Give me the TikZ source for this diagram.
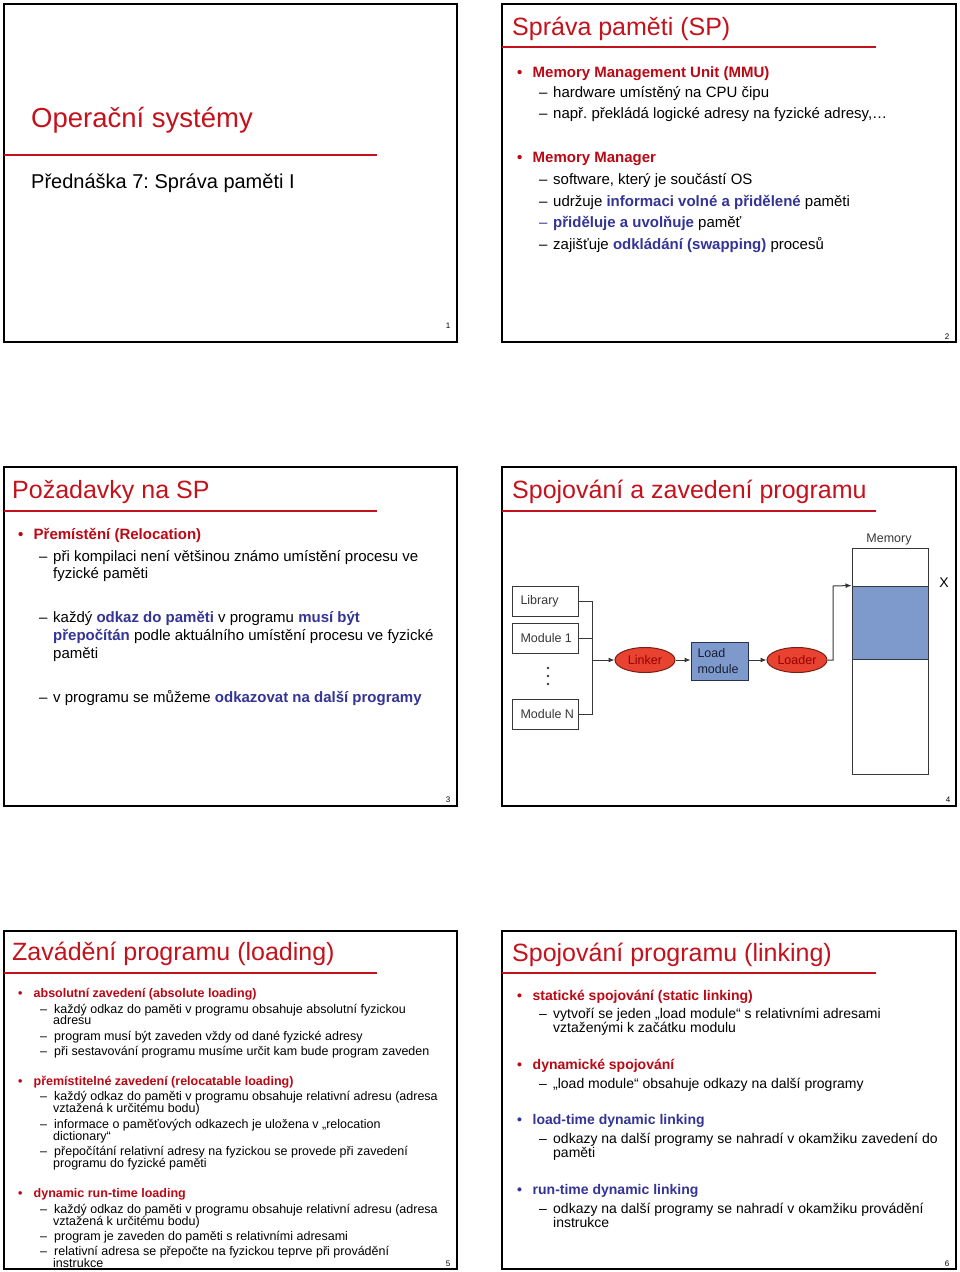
\documentclass[tikz,border=0pt]{standalone}
\usepackage{fontspec}
\setmainfont{Liberation Sans}
\usepackage{tikz}
\usetikzlibrary{shapes,arrows,arrows.meta}
\frenchspacing
\definecolor{titlered}{RGB}{196,18,28}
\definecolor{headred}{RGB}{186,8,20}
\definecolor{emblue}{RGB}{52,52,150}
\definecolor{memblue}{RGB}{126,154,204}
\definecolor{ellred}{RGB}{232,66,48}
\definecolor{elltext}{RGB}{150,0,0}
\definecolor{wire}{RGB}{55,55,55}
\tikzstyle{slide} = [draw=black, line width=1.6pt]
\tikzstyle{rule} = [draw=titlered, line width=1.4pt]
\tikzstyle{title} = [anchor=base west, inner sep=0pt, text=titlered, font=\fontsize{25}{30}\selectfont]
\tikzstyle{txt} = [anchor=base west, inner sep=0pt]
\tikzstyle{hd} = [txt, text=headred, font=\bfseries\fontsize{15}{18}\selectfont]
\tikzstyle{sub} = [txt, font=\fontsize{15}{18}\selectfont]
\tikzstyle{hdm} = [txt, text=headred, font=\bfseries\fontsize{14}{17}\selectfont]
\tikzstyle{subm} = [txt, font=\fontsize{14}{17}\selectfont]
\tikzstyle{hds} = [txt, text=headred, font=\bfseries\fontsize{12.5}{15}\selectfont]
\tikzstyle{subs} = [txt, font=\fontsize{12.5}{15}\selectfont]
\tikzstyle{pnum} = [anchor=base, inner sep=0pt, font=\fontsize{8}{9}\selectfont]
\tikzstyle{module} = [draw=wire, line width=1pt, rectangle, fill=white, minimum height=30pt, inner xsep=7pt, text=wire, font=\fontsize{12.5}{15}\selectfont]
\tikzstyle{proc} = [draw={rgb,255:red,120;green,30;blue,20}, line width=1pt, ellipse, fill=ellred, minimum width=60pt, minimum height=25pt, inner sep=0pt, text=elltext, font=\fontsize{12.5}{15}\selectfont]
\tikzstyle{mem} = [draw=wire, line width=1pt, rectangle, inner sep=0pt]
\tikzstyle{wireline} = [draw=wire, line width=1pt]
\newcommand{\blu}[1]{{\bfseries\color{emblue}#1}}
\newcommand{\blt}{\makebox[15.5pt][l]{\textbullet}}
\newcommand{\subd}{\makebox[14pt][l]{–}}
\newcommand{\modtext}[1]{\makebox[52pt][l]{\hspace*{1.5pt}#1}}

\begin{document}
\begin{tikzpicture}[x=1pt, y=-1pt, >={Latex[length=6pt,width=5pt]}]
    \fill[white] (0,0) rectangle (960,1272);

    % slide 1
    \draw[slide] (4,4) rectangle (457,342);
    \draw[rule] (4,155) -- (377,155);
    \node[title, font=\fontsize{27.5}{33}\selectfont] (t1) at (31,127) {Operační systémy};
    \node[txt, font=\fontsize{20}{24}\selectfont] (st1) at (31,188) {Přednáška 7: Správa paměti I};
    \node[pnum] (p1) at (448,328) {1};

    % slide 2
    \draw[slide] (502,4) rectangle (956,342);
    \draw[rule] (502,47) -- (876,47);
    \node[title] (t2) at (512,35) {Správa paměti (SP)};
    \node[hd] (s2a) at (517,77) {\blt Memory Management Unit (MMU)};
    \node[sub] (s2a1) at (539,97) {\subd hardware umístěný na CPU čipu};
    \node[sub] (s2a2) at (539,118) {\subd např. překládá logické adresy na fyzické adresy,…};
    \node[hd] (s2b) at (517,162) {\blt Memory Manager};
    \node[sub] (s2b1) at (539,184) {\subd software, který je součástí OS};
    \node[sub] (s2b2) at (539,206) {\subd udržuje \blu{informaci volné a přidělené} paměti};
    \node[sub] (s2b3) at (539,227) {\color{emblue}\subd\blu{přiděluje a uvolňuje} \color{black}paměť};
    \node[sub] (s2b4) at (539,249) {\subd zajišťuje \blu{odkládání (swapping)} procesů};
    \node[pnum] (p2) at (947,339) {2};

    % slide 3
    \draw[slide] (4,467) rectangle (457,806);
    \draw[rule] (4,511) -- (377,511);
    \node[title] (t3) at (12,498) {Požadavky na SP};
    \node[hd] (s3a) at (18,539) {\blt Přemístění (Relocation)};
    \node[sub] (s3a1) at (39,561) {\subd při kompilaci není většinou známo umístění procesu ve};
    \node[sub] (s3a1b) at (53,578) {fyzické paměti};
    \node[sub] (s3a2) at (39,622) {\subd každý \blu{odkaz do paměti} v programu \blu{musí být}};
    \node[sub] (s3a2b) at (53,640) {\blu{přepočítán} podle aktuálního umístění procesu ve fyzické};
    \node[sub] (s3a2c) at (53,658) {paměti};
    \node[sub] (s3a3) at (39,702) {\subd v programu se můžeme \blu{odkazovat na další programy}};
    \node[pnum] (p3) at (448,802) {3};

    % slide 4
    \draw[slide] (502,467) rectangle (956,806);
    \draw[rule] (502,511) -- (876,511);
    \node[title] (t4) at (512,498) {Spojování a zavedení programu};
    \node[module] (lib) at (545,601) {\modtext{Library}};
    \node[module] (mod1) at (545,638) {\modtext{Module 1}};
    \foreach \y in {668,676,684}
        \fill[wire] (548,\y) circle (1.3pt);
    \node[module] (modN) at (545,714) {\modtext{Module N}};
    \coordinate (bus) at (592,660);
    \draw[wireline] (lib.east) -| (bus);
    \draw[wireline] (mod1.east) -| (bus);
    \draw[wireline] (modN.east) -| (bus);
    \node[proc] (linker) at (645,660) {Linker};
    \draw[wireline, ->] (bus) -- (linker.west);
    \node[draw={rgb,255:red,40;green,50;blue,80}, line width=1pt, fill=memblue, text width=44pt, inner xsep=6.5pt, minimum height=38pt, align=left, text={rgb,255:red,25;green,30;blue,50}, font=\fontsize{12.5}{16}\selectfont] (loadmod) at (719.5,661) {Load\\module};
    \draw[wireline, ->] (linker.east) -- (loadmod.west |- linker.east);
    \node[proc] (loader) at (797,660) {Loader};
    \draw[wireline, ->] (loadmod.east |- loader.west) -- (loader.west);
    \node[mem, fill=white, minimum width=76pt, minimum height=226pt] (memory) at (890,661) {};
    \node[mem, fill=memblue, minimum width=76pt, minimum height=73pt] (memblk) at (890,622.5) {};
    \node[text=wire, font=\fontsize{12.5}{15}\selectfont] (memlabel) at (889,539) {Memory};
    \node[font=\fontsize{14}{16}\selectfont] (xmark) at (944,583) {X};
    \coordinate (bend) at (833,586);
    \draw[wireline, ->] (loader.east) -| (bend) -- (memblk.north west);
    \node[pnum] (p4) at (948,802) {4};

    % slide 5
    \draw[slide] (4,931) rectangle (457,1269);
    \draw[rule] (4,973) -- (377,973);
    \node[title] (t5) at (12,960) {Zavádění programu (loading)};
    \node[hds] (s5a) at (18,997) {\blt absolutní zavedení (absolute loading)};
    \node[subs] (s5a1) at (40,1013.5) {\subd každý odkaz do paměti v programu obsahuje absolutní fyzickou};
    \node[subs] (s5a1b) at (53,1024.5) {adresu};
    \node[subs] (s5a2) at (40,1040.5) {\subd program musí být zaveden vždy od dané fyzické adresy};
    \node[subs] (s5a3) at (40,1055.5) {\subd při sestavování programu musíme určit kam bude program zaveden};
    \node[hds] (s5b) at (18,1085) {\blt přemístitelné zavedení (relocatable loading)};
    \node[subs] (s5b1) at (40,1100.5) {\subd každý odkaz do paměti v programu obsahuje relativní adresu (adresa};
    \node[subs] (s5b1b) at (53,1112.5) {vztažená k určitému bodu)};
    \node[subs] (s5b2) at (40,1128) {\subd informace o paměťových odkazech je uložena v „relocation};
    \node[subs] (s5b2b) at (53,1140) {dictionary“};
    \node[subs] (s5b3) at (40,1155.5) {\subd přepočítání relativní adresy na fyzickou se provede při zavedení};
    \node[subs] (s5b3b) at (53,1167.3) {programu do fyzické paměti};
    \node[hds] (s5c) at (18,1197.5) {\blt dynamic run-time loading};
    \node[subs] (s5c1) at (40,1213) {\subd každý odkaz do paměti v programu obsahuje relativní adresu (adresa};
    \node[subs] (s5c1b) at (53,1225) {vztažená k určitému bodu)};
    \node[subs] (s5c2) at (40,1240.3) {\subd program je zaveden do paměti s relativními adresami};
    \node[subs] (s5c3) at (40,1255.7) {\subd relativní adresa se přepočte na fyzickou teprve při provádění};
    \node[subs] (s5c3b) at (53,1267.3) {instrukce};
    \node[pnum] (p5) at (448,1266) {5};

    % slide 6
    \draw[slide] (502,931) rectangle (956,1269);
    \draw[rule] (502,973) -- (876,973);
    \node[title] (t6) at (512,961) {Spojování programu (linking)};
    \node[hdm] (s6a) at (517,1000) {\blt statické spojování (static linking)};
    \node[subm] (s6a1) at (539,1018.3) {\subd vytvoří se jeden „load module“ s relativními adresami};
    \node[subm] (s6a1b) at (553,1032.7) {vztaženými k začátku modulu};
    \node[hdm] (s6b) at (517,1069.3) {\blt dynamické spojování};
    \node[subm] (s6b1) at (539,1088.3) {\subd „load module“ obsahuje odkazy na další programy};
    \node[hdm, text=emblue] (s6c) at (517,1124.3) {\blt load-time dynamic linking};
    \node[subm] (s6c1) at (539,1143.3) {\subd odkazy na další programy se nahradí v okamžiku zavedení do};
    \node[subm] (s6c1b) at (553,1157.3) {paměti};
    \node[hdm, text=emblue] (s6d) at (517,1194.3) {\blt run-time dynamic linking};
    \node[subm] (s6d1) at (539,1213.3) {\subd odkazy na další programy se nahradí v okamžiku provádění};
    \node[subm] (s6d1b) at (553,1227.3) {instrukce};
    \node[pnum] (p6) at (947,1266) {6};
\end{tikzpicture}
\end{document}
